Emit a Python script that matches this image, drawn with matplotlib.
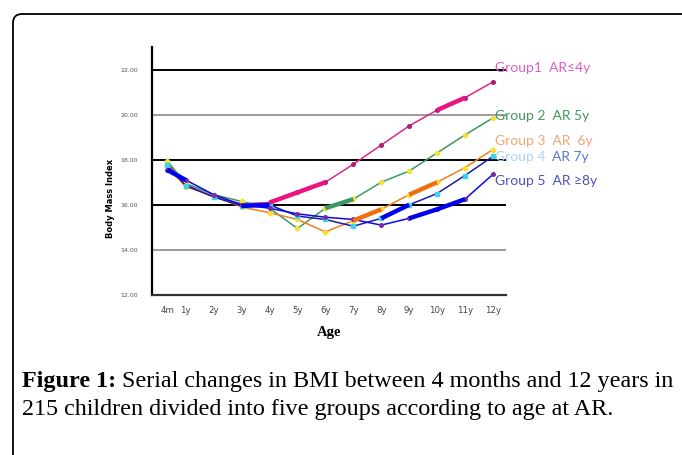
import numpy as np
import matplotlib
matplotlib.use("Agg")
import matplotlib.pyplot as plt
from matplotlib.patches import FancyBboxPatch

# ages (years) and tick labels
ages = [0.33, 1, 2, 3, 4, 5, 6, 7, 8, 9, 10, 11, 12]
age_labels = ["4m", "1y", "2y", "3y", "4y", "5y", "6y", "7y", "8y", "9y", "10y", "11y", "12y"]

# mean BMI per group
g1 = [17.85, 16.90, 16.35, 16.05, 16.10, 16.55, 17.00, 17.80, 18.65, 19.50, 20.20, 20.75, 21.45]
g2 = [17.95, 16.95, 16.45, 16.15, 15.85, 14.95, 15.85, 16.25, 17.00, 17.50, 18.30, 19.10, 19.85]
g3 = [17.70, 16.80, 16.40, 15.90, 15.65, 15.35, 14.80, 15.30, 15.80, 16.45, 17.00, 17.65, 18.45]
g4 = [17.75, 16.85, 16.35, 15.95, 16.00, 15.50, 15.35, 15.05, 15.40, 16.00, 16.50, 17.30, 18.15]
g5 = [17.55, 17.10, 16.45, 16.00, 15.85, 15.60, 15.45, 15.35, 15.10, 15.40, 15.80, 16.25, 17.35]

groups = ["Group1  AR\u22644y", "Group 2  AR 5y", "Group 3  AR  6y", "Group 4", "Group 5  AR \u22658y"]
yticks = [12, 14, 16, 18, 20, 22]

fig = plt.figure(figsize=(6.82, 4.55), dpi=100)

# rounded frame round the figure
bg = fig.add_axes([0, 0, 1, 1])
bg.set_xlim(0, 682); bg.set_ylim(455, 0); bg.axis("off")
bg.add_patch(FancyBboxPatch((13, 14), 720, 480, boxstyle="round,pad=0,rounding_size=9",
                            fc="none", ec="black", lw=1.3))

ax = fig.add_axes([152 / 682, 1 - 295 / 455, 354 / 682, 248 / 455])
ax.set_xlim(-0.21, 12.47)
ax.set_ylim(12, 23.0)
for s in ["top", "right"]:
    ax.spines[s].set_visible(False)
ax.spines["left"].set_linewidth(1.6)
ax.spines["bottom"].set_linewidth(1.6)
ax.spines["bottom"].set_color("#333333")

for v in [22, 18, 16]:
    ax.axhline(v, color="black", lw=1.4, zorder=1)
for v in [20, 14]:
    ax.axhline(v, color="#8a8a8a", lw=1.2, zorder=1)

series = [
    (g1, "#d8288f", "#b01c78", "o"),
    (g2, "#3a9a62", "#f2e23a", "D"),
    (g3, "#f0801e", "#f5e030", "D"),
    (g4, "#1c1ca8", "#3fd0ee", "s"),
    (g5, "#0a0ae6", "#7a2ca8", "o"),
]
for vals, col, mcol, mk in series:
    ax.plot(ages, vals, color=col, lw=1.1, marker=mk, ms=2.6, mfc=mcol, mec=mcol, zorder=3)

# thick bands on parts of the curves
thick = [(g1, "#ee1280", 4, 6), (g1, "#ee1280", 10, 11), (g2, "#3a9a62", 6, 7),
         (g3, "#f07010", 7, 8), (g3, "#f07010", 9, 10), (g4, "#0000ee", 3, 4),
         (g4, "#0000ee", 8, 9), (g5, "#0000ee", 0, 1), (g5, "#0000ee", 9, 11)]
for vals, col, i0, i1 in thick:
    ax.plot(ages[i0:i1 + 1], vals[i0:i1 + 1], color=col, lw=3.2, solid_capstyle="butt", zorder=4)

ax.set_yticks(yticks)
ax.set_yticklabels([f"{v:.2f}" for v in yticks], fontsize=4.5, color="#555555")
ax.set_xticks(ages)
ax.set_xticklabels(age_labels, fontsize=6.2, color="#444444")
ax.tick_params(length=0)
ax.tick_params(axis="y", pad=10)
ax.tick_params(axis="x", pad=8)
ax.set_ylabel("Body Mass Index", fontsize=6, fontweight="bold")
ax.yaxis.set_label_coords(-0.105, 0.39)
ax.set_xlabel("Age", fontsize=10.5, fontweight="bold", family="Liberation Serif", labelpad=8)

fam = ["Lato", "DejaVu Sans"]
fs = 10
lx = 12.06
ax.text(lx, 22.05, groups[0], color="#df5cc4", fontsize=fs, family=fam, va="center", clip_on=False)
ax.text(lx, 19.95, groups[1], color="#3d9a5a", fontsize=fs, family=fam, va="center", clip_on=False)
ax.text(lx, 18.85, groups[2], color="#f2a672", fontsize=fs, family=fam, va="center", clip_on=False)
t4 = ax.text(lx, 18.1, groups[3], color="#a9d6f2", fontsize=fs, family=fam, va="center", clip_on=False)
ax.annotate("  AR 7y", xycoords=t4, xy=(1, 0.5), va="center", color="#5a78d6", fontsize=fs, family=fam,
            annotation_clip=False)
ax.text(lx, 17.05, groups[4], color="#5050c0", fontsize=fs, family=fam, va="center", clip_on=False)

# caption below the chart
serif = "Liberation Serif"
cfs = 17.4
t1 = fig.text(22 / 682, 1 - 381 / 455, "Figure 1:", fontsize=cfs, fontweight="bold", family=serif,
              va="center")
ax.annotate(" Serial changes in BMI between 4 months and 12 years in", xycoords=t1, xy=(1, 0.5),
            va="center", fontsize=cfs, family=serif, annotation_clip=False)
fig.text(22 / 682, 1 - 410 / 455, "215 children divided into five groups according to age at AR.",
         fontsize=cfs, family=serif, va="center")

fig.savefig("out.png", dpi=100)
